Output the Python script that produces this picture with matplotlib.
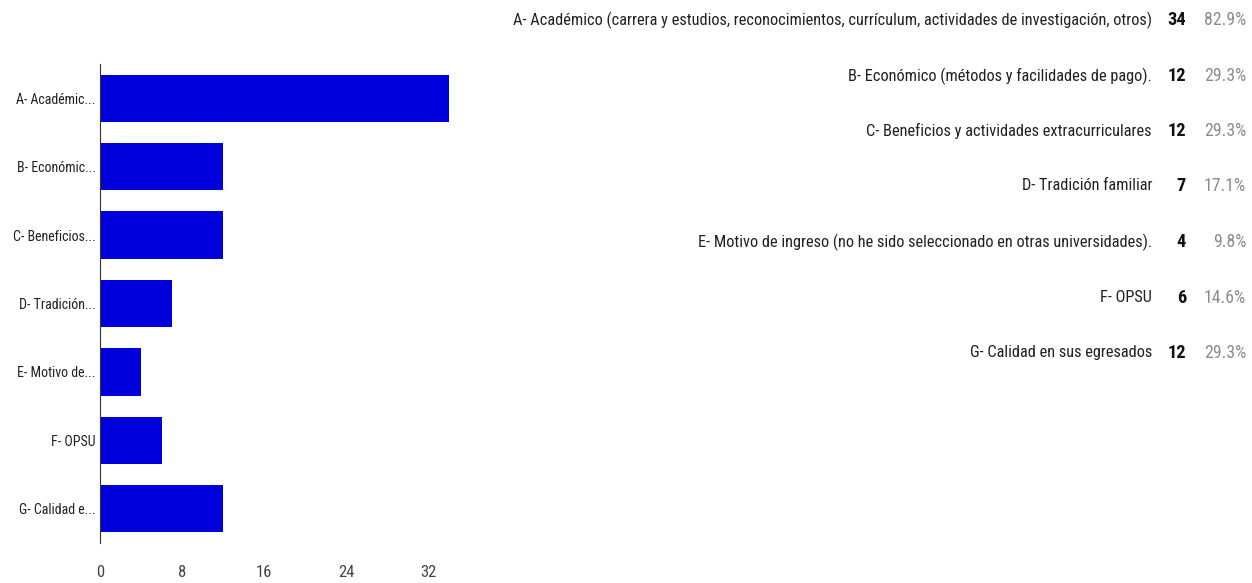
import matplotlib.pyplot as plt
from matplotlib import font_manager

short_labels = ['A- Académic...', 'B- Económic...', 'C- Beneficios...', 'D- Tradición...',
                'E- Motivo de...', 'F- OPSU', 'G- Calidad e...']
full_labels = [
    'A- Académico (carrera y estudios, reconocimientos, currículum, actividades de investigación, otros)',
    'B- Económico (métodos y facilidades de pago).',
    'C- Beneficios y actividades extracurriculares',
    'D- Tradición familiar',
    'E- Motivo de ingreso (no he sido seleccionado en otras universidades).',
    'F- OPSU',
    'G- Calidad en sus egresados',
]
counts = [34, 12, 12, 7, 4, 6, 12]
percents = ['82.9%', '29.3%', '29.3%', '17.1%', '9.8%', '14.6%', '29.3%']
xticks = [0, 8, 16, 24, 32]

# a narrow face if one is there, else Arial-like Liberation Sans
names = {f.name for f in font_manager.fontManager.ttflist}
main_font = 'Liberation Sans'
for cand in ['Liberation Sans Narrow', 'Roboto Condensed', 'Arial Narrow', 'Open Sans Condensed']:
    if cand in names:
        main_font = cand
        break
plt.rcParams['font.family'] = [main_font, 'DejaVu Sans']

W, H = 1252, 583
fig = plt.figure(figsize=(W / 100, H / 100), dpi=100)
renderer = fig.canvas.get_renderer()


def fit_size(text, target_px, size=12.0):
    t = fig.text(0, 0, text, fontsize=size)
    w = t.get_window_extent(renderer).width
    t.remove()
    return size * target_px / w


tick_size = fit_size(short_labels[0], 80)
row_size = fit_size(full_labels[0], 639)

ax = fig.add_axes([100 / W, 40 / H, 410 / W, 479 / H])

y = range(len(counts))
ax.barh(list(y), counts, height=0.69, color='#0000dc')
ax.set_ylim(len(counts) - 0.5, -0.5)
ax.set_xlim(0, 40)
ax.set_yticks(list(y))
ax.set_yticklabels(short_labels, fontsize=tick_size, color='#222222')
ax.set_xticks(xticks)
ax.set_xticklabels([str(t) for t in xticks], fontsize=12, color='#444444')
ax.tick_params(length=0)
ax.tick_params(axis='x', pad=16)
ax.tick_params(axis='y', pad=3)
for s in ['top', 'right', 'bottom']:
    ax.spines[s].set_visible(False)
ax.spines['left'].set_color('#333333')

# table on the right
row_y = [20, 76, 131, 186, 242, 298, 353]
for i in range(len(counts)):
    yy = 1 - row_y[i] / H
    fig.text(1152 / W, yy, full_labels[i], ha='right', va='center', fontsize=row_size, color='#222222')
    fig.text(1186 / W, yy, str(counts[i]), ha='right', va='center', fontsize=row_size + 1.5,
             fontweight='bold', color='#111111')
    fig.text(1246 / W, yy, percents[i], ha='right', va='center', fontsize=row_size + 1, color='#8c8c8c')

fig.savefig('out.png', dpi=100)
